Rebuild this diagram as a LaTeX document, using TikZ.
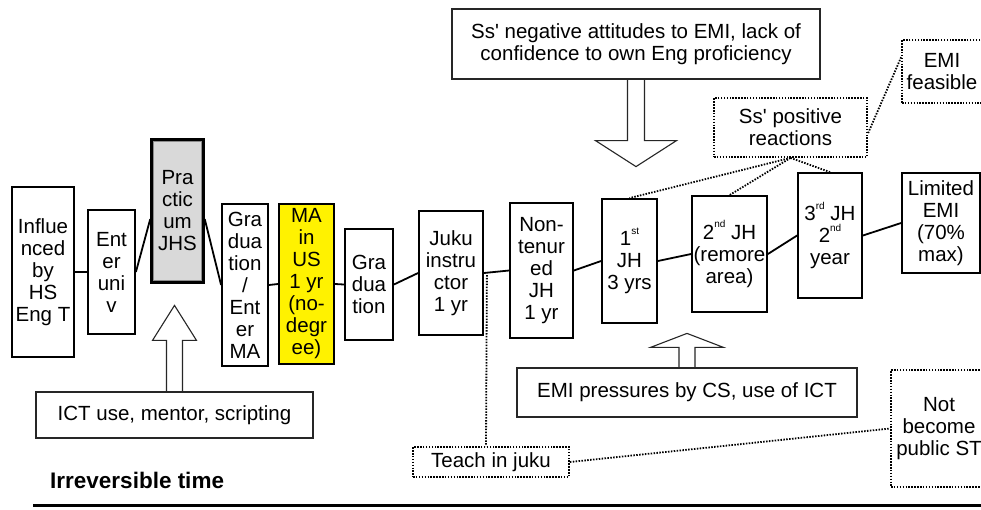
\documentclass[tikz,border=0pt]{standalone}
\usepackage{fontspec}
\setmainfont{Liberation Sans}[Ligatures=TeXOff]
\usetikzlibrary{calc}
\newcommand\sups[1]{\raisebox{0.55em}{\fontsize{10}{10}\selectfont #1}}
\begin{document}
\begin{tikzpicture}[x=1pt,y=-1pt,
  txt/.style={font=\fontsize{20.5}{22}\selectfont},
  sz/.style 2 args={minimum width=#1pt, minimum height=#2pt},
  box/.style={draw=black, line width=1.8pt, fill=white, align=center, inner sep=0pt, txt},
  thinbox/.style={draw=black!85, line width=1.2pt, fill=white, align=center, inner sep=0pt, txt},
  dotbox/.style={box, dash pattern=on 1.5pt off 1.4pt},
  conn/.style={line width=1.8pt, black},
  dotconn/.style={line width=1.8pt, black, dash pattern=on 1.5pt off 1.4pt},
  bigarrow/.style={line width=1.1pt, black!85, line join=miter},
]
\clip (0,0) rectangle (981,509);
\fill[white] (0,0) rectangle (981,509);

% timeline boxes
\node[box, sz={62}{170}] (infl) at (43,272) {Influe\\nced\\by\\HS\\Eng T};
\node[box, sz={47}{124}] (univ) at (111.5,272) {Ent\\er\\uni\\v};
\node[box, sz={51}{142}, line width=3.5pt, fill=black!15] (prac) at (177.5,211) {Pra\\ctic\\um\\JHS};
\draw[black!45, line width=1.2pt] ([shift={(3.2,3.2)}]prac.north west) rectangle ([shift={(-3.2,-3.2)}]prac.south east);
\node[box, sz={46}{162}] (gradma) at (245,285) {Gra\\dua\\tion\\/\\Ent\\er\\MA};
\node[box, sz={55}{160}, fill=yellow] (maus) at (306.5,284) {MA\\in\\US\\1 yr\\(no-\\degr\\ee)};
\node[box, sz={48}{111}] (grad) at (369,284.5) {Gra\\dua\\tion};
\node[box, sz={64}{124}] (juku) at (451,273) {Juku\\instru\\ctor\\1 yr};
\node[box, sz={63}{135}] (nont) at (541.5,270.5) {Non-\\tenur\\ed\\JH\\1 yr};
\node[box, sz={55}{124}] (jh1) at (629.5,261) {1\sups{st}\\JH\\3 yrs};
\node[box, sz={75}{116}] (jh2) at (729.5,254) {2\sups{nd} JH\\(remore\\area)};
\node[box, sz={64}{125}] (jh3) at (830,235.5) {3\sups{rd} JH\\2\sups{nd}\\year};
\node[box, sz={78}{100}] (lim) at (941,223) {Limited\\EMI\\(70\%\\max)};

% solid connectors
\draw[conn] (infl.east) -- (univ.west);
\draw[conn] (univ.east) -- ([yshift=-8pt]prac.west);
\draw[conn] ([yshift=-8pt]prac.east) -- (gradma.west);
\draw[conn] (gradma.east) -- (maus.west);
\draw[conn] (maus.east) -- (grad.west);
\draw[conn] (grad.east) -- (juku.west);
\draw[conn] (juku.east) -- (nont.west);
\draw[conn] (nont.east) -- (jh1.west);
\draw[conn] (jh1.east) -- (jh2.west);
\draw[conn] (jh2.east) -- (jh3.west);
\draw[conn] (jh3.east) -- (lim.west);

% influence boxes
\node[thinbox, sz={368}{70}] (neg) at (636,44) {Ss' negative attitudes to EMI, lack of\\confidence to own Eng proficiency};
\node[thinbox, sz={277}{46}] (ict) at (174.5,415) {ICT use, mentor, scripting};
\node[thinbox, sz={340}{49}] (emi) at (687,392.5) {EMI pressures by CS, use of ICT};

% hollow arrows
\draw[bigarrow] ([xshift=-8.5pt]neg.south) -- ++(0,61) -- ++(-32,0) -- ++(40.5,26) -- ++(40.5,-26) -- ++(-32,0) -- ++(0,-61);
\draw[bigarrow] ([xshift=-8pt]ict.north) -- ++(0,-51) -- ++(-14,0) -- ++(22,-35) -- ++(22,35) -- ++(-14,0) -- ++(0,51);
\draw[bigarrow] ([xshift=-8pt]emi.north) -- ++(0,-20) -- ++(-28.5,0) -- ++(36.5,-14) -- ++(36.5,14) -- ++(-28.5,0) -- ++(0,20);

% dotted boxes
\node[dotbox, sz={153}{59}] (pos) at (790.5,127.5) {Ss' positive\\reactions};
\node[dotbox, sz={80}{63}] (feas) at (942,71.5) {EMI\\feasible};
\node[dotbox, sz={156}{30}] (teach) at (491,462) {Teach in juku};
\node[dotbox, sz={96}{117}] (notb) at (939,428.5) {Not\\become\\public ST};

% dotted connectors
\draw[dotconn] (pos.south) -- (jh1.north);
\draw[dotconn] (pos.south) -- (jh2.north);
\draw[dotconn] (pos.south) -- (jh3.north);
\draw[dotconn] ($(feas.north west)!0.28!(feas.south west)$) -- ($(pos.north east)!0.6!(pos.south east)$);
\draw[dotconn] ([xshift=3pt,yshift=-2pt]juku.east) -- ([xshift=-5pt]teach.north);
\draw[dotconn] (teach.east) -- (notb.west);

% time axis
\node[anchor=west, inner sep=0pt, font=\bfseries\fontsize{22.5}{24}\selectfont] (irr) at (50,480) {Irreversible time};
\coordinate (ax0) at (33,505);
\coordinate (ax1) at (990,505);
\draw[line width=3pt] (ax0) -- (ax1);
\end{tikzpicture}
\end{document}
